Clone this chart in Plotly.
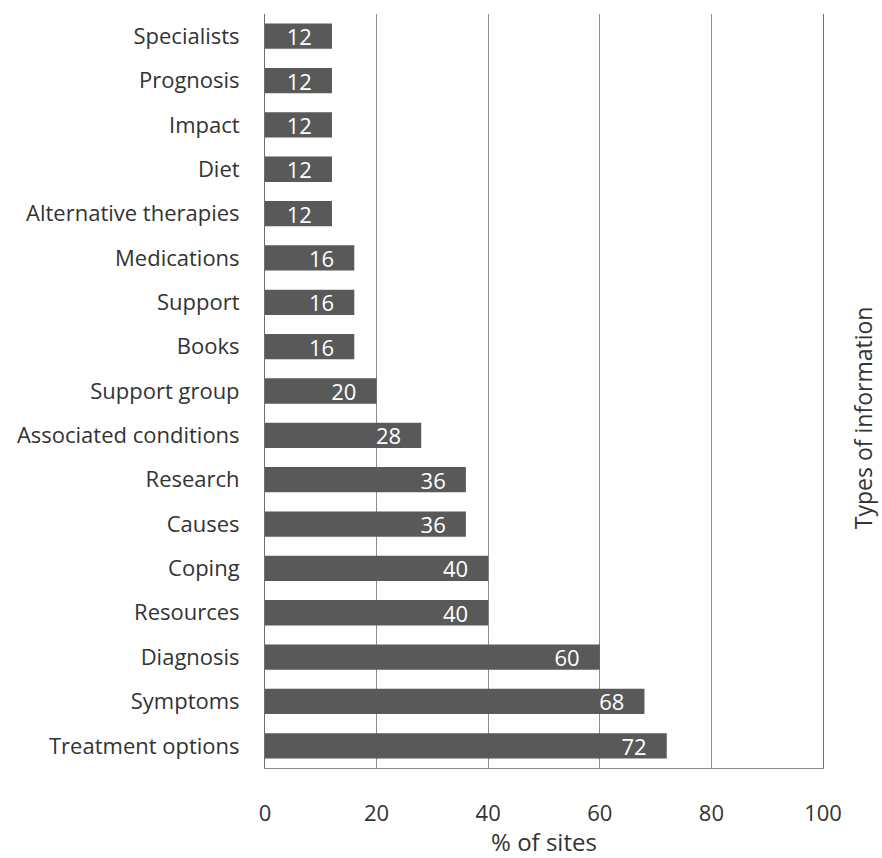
import plotly.graph_objects as go

categories = ["Treatment options", "Symptoms", "Diagnosis", "Resources", "Coping", "Causes",
              "Research", "Associated conditions", "Support group", "Books", "Support",
              "Medications", "Alternative therapies", "Diet", "Impact", "Prognosis", "Specialists"]
values = [72, 68, 60, 40, 40, 36, 36, 28, 20, 16, 16, 16, 12, 12, 12, 12, 12]
x_ticks = [0, 20, 40, 60, 80, 100]

FONT = "'Open Sans', sans-serif"
PAD = "\u00a0\u00a0\u00a0"

fig = go.Figure(go.Bar(
    y=categories, x=values, orientation="h",
    marker=dict(color="#595959", line=dict(width=0)),
    width=0.57,
    text=[str(v) + PAD for v in values],
    textposition="inside", insidetextanchor="end", textangle=0,
    constraintext="none",
    textfont=dict(color="white", size=22, family=FONT),
    cliponaxis=False,
))

fig.update_layout(
    width=882, height=858,
    margin=dict(l=265, r=59, t=14, b=90, autoexpand=False),
    paper_bgcolor="white", plot_bgcolor="white",
    font=dict(family=FONT, color="#333333"),
    showlegend=False,
    xaxis=dict(range=[0, 100], tickvals=x_ticks, showgrid=True, gridcolor="#8c8c8c", gridwidth=1,
               zeroline=False, showline=True, linecolor="#8c8c8c", linewidth=1, automargin=False,
               tickfont=dict(size=22, color="#333333"), ticklabelstandoff=26,
               title=dict(text="% of sites", font=dict(size=24, color="#333333"), standoff=4)),
    yaxis=dict(categoryorder="array", categoryarray=categories, showgrid=False, automargin=False,
               showline=True, linecolor="#6e6e6e", linewidth=1, mirror=True,
               tickfont=dict(size=22, color="#333333"), ticks="", ticklabelstandoff=20,
               range=[-0.5, 16.5]),
    annotations=[dict(text="Types of information", xref="paper", yref="paper",
                      x=1, xshift=58, y=0.464, textangle=-90, showarrow=False,
                      font=dict(size=23, color="#333333"))],
)

fig.write_html("out.html")
